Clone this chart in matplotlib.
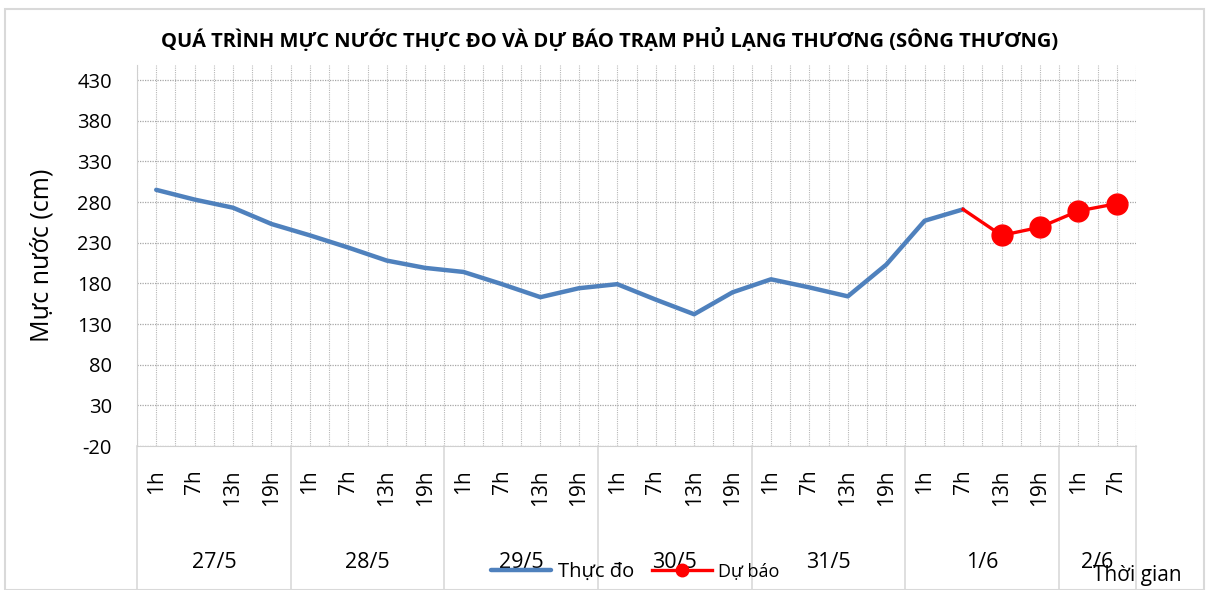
import numpy as np
import matplotlib
matplotlib.use("Agg")
import matplotlib.pyplot as plt
import matplotlib.transforms as mtransforms
from matplotlib.patches import Rectangle

plt.rcParams['font.family'] = ['Open Sans', 'DejaVu Sans']

# data
days = ["27/5", "28/5", "29/5", "30/5", "31/5", "1/6", "2/6"]
hours = ["1h", "7h", "13h", "19h"] * 6 + ["1h", "7h"]
observed = [295, 283, 273, 253, 239, 224, 208, 199, 194, 179, 163, 174,
            179, 160, 142, 169, 185, 175, 164, 203, 257, 271]
forecast = [271, 239, 249, 269, 278]   # starts at last observed point
group_sizes = [4, 4, 4, 4, 4, 4, 2]
yticks = list(range(-20, 431, 50))

x_all = np.arange(len(hours))
x_obs = x_all[:len(observed)]
x_fc = x_all[len(observed) - 1:]

fig = plt.figure(figsize=(12.08, 5.9), dpi=100)
ax = fig.add_axes([137 / 1208, 1 - 446 / 590, (1136 - 137) / 1208, (446 - 65) / 590])

ax.plot(x_obs, observed, color='#4f81bd', lw=3.2, solid_capstyle='round',
        solid_joinstyle='round', label='Thực đo', zorder=3)
ax.plot(x_fc, forecast, color='#ff0000', lw=2.4, marker='o', markersize=15,
        markevery=list(range(1, len(forecast))), label='Dự báo', zorder=4)

ax.set_xlim(-0.5, len(hours) - 0.5)
ax.set_ylim(-20, 448.5)
ax.set_yticks(yticks)
ax.set_yticklabels([str(v) for v in yticks], fontsize=14.5)
ax.set_xticks(x_all)
ax.set_xticklabels(hours, rotation=90, fontsize=15, va='top')
ax.set_xticks(np.arange(-0.5, len(hours), 1), minor=True)
ax.tick_params(axis='both', which='both', length=0)
ax.tick_params(axis='x', pad=17)
ax.tick_params(axis='y', pad=18)

ax.grid(axis='y', which='major', color='#a6a6a6', linestyle=(0, (1, 1)), lw=0.9)
ax.grid(axis='x', which='both', color='#b8b8b8', linestyle=(0, (1, 1)), lw=0.8)
ax.set_axisbelow(True)

for side in ['top', 'right']:
    ax.spines[side].set_visible(False)
ax.spines['left'].set_color('#d0d0d0')
ax.spines['bottom'].set_color('#d0d0d0')

# date group labels and separators
trans = mtransforms.blended_transform_factory(ax.transData, ax.transAxes)
bounds = np.concatenate([[0], np.cumsum(group_sizes)]) - 0.5
for b in bounds:
    ax.plot([b, b], [0, -0.38], transform=trans, color='#d9d9d9', lw=1.2,
            clip_on=False)
for i, d in enumerate(days):
    cx = (bounds[i] + bounds[i + 1]) / 2
    ax.text(cx, -0.307, d, transform=trans, ha='center', va='center', fontsize=15.5)

ax.set_ylabel('Mực nước (cm)', fontsize=18)
ax.yaxis.set_label_coords(-0.083, 0.5)

fig.text(0.505, 1 - 40 / 590, 'QUÁ TRÌNH MỰC NƯỚC THỰC ĐO VÀ DỰ BÁO TRẠM PHỦ LẠNG THƯƠNG (SÔNG THƯƠNG)',
         ha='center', va='center', fontsize=14.5, fontweight='bold')

leg = fig.legend(loc='center', bbox_to_anchor=(0.526, 0.03), ncol=2, frameon=False,
                 handlelength=3.0, columnspacing=0.9, handletextpad=0.3,
                 fontsize=14.5, markerscale=0.6)
leg.get_texts()[1].set_fontsize(13)

fig.text(1137 / 1208, 1 - 575 / 590, 'Thời gian', ha='center', va='center', fontsize=15)

fig.patches.append(Rectangle((5 / 1208, 0), 1199 / 1208, 1 - 9 / 590,
                             transform=fig.transFigure, fill=False,
                             edgecolor='#d9d9d9', lw=1.5))

fig.savefig('out.png', dpi=100)
